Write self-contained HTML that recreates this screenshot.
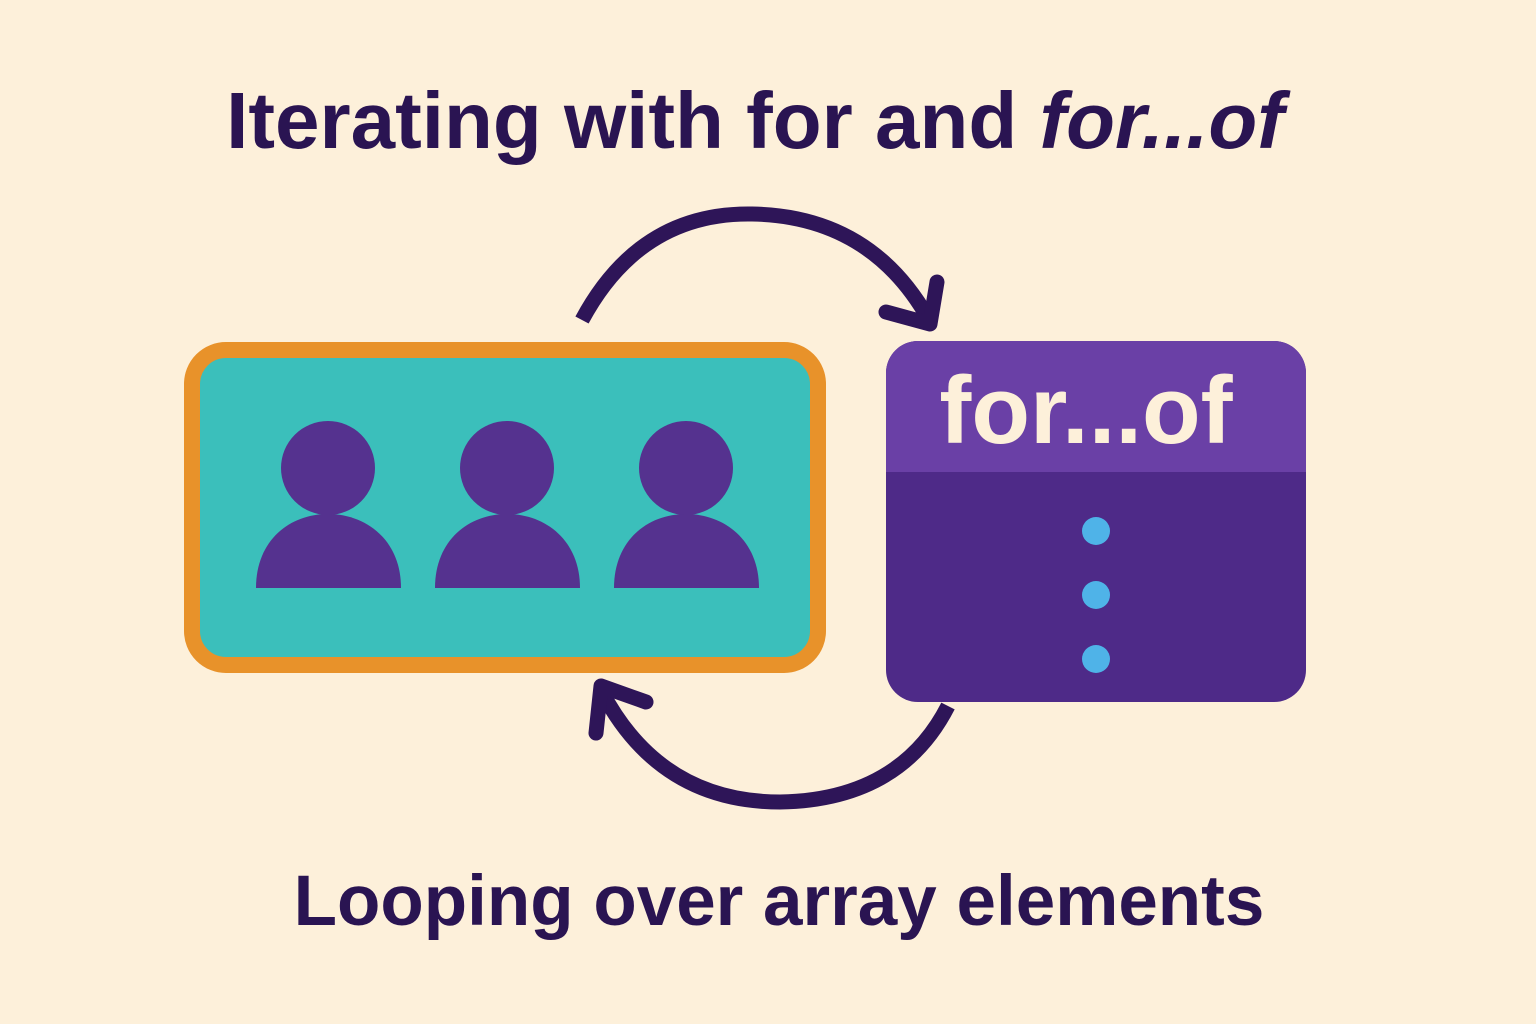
<!DOCTYPE html>
<html><head><meta charset="utf-8"><style>
html,body{margin:0;padding:0;width:1536px;height:1024px;overflow:hidden;background:#fdf0da;}
svg{display:block}
</style></head><body>
<svg width="1536" height="1024" viewBox="0 0 1536 1024" xmlns="http://www.w3.org/2000/svg">
<rect width="1536" height="1024" fill="#fdf0da"/>
<text x="755" y="148" text-anchor="middle" font-family="Liberation Sans, sans-serif" font-weight="bold" font-size="80" fill="#2a1452">Iterating with for and <tspan font-style="italic">for...of</tspan></text>
<text x="779" y="925" text-anchor="middle" font-family="Liberation Sans, sans-serif" font-weight="bold" font-size="71" fill="#2a1452">Looping over array elements</text>
<rect x="192" y="350" width="626" height="315" rx="34" fill="#3bbfbb" stroke="#e8922a" stroke-width="16"/>
<g fill="#55328f">
<circle cx="328" cy="468" r="47"/>
<path d="M256,588 C256,540 290,514 328,514 C366,514 401,540 401,588 Z"/>
<circle cx="507" cy="468" r="47"/>
<path d="M435,588 C435,540 469,514 507,514 C545,514 580,540 580,588 Z"/>
<circle cx="686" cy="468" r="47"/>
<path d="M614,588 C614,540 648,514 686,514 C724,514 759,540 759,588 Z"/>
</g>
<rect x="886" y="341" width="420" height="361" rx="32" fill="#4e2a88"/>
<path d="M918,341 H1274 A32,32 0 0 1 1306,373 V472 H886 V373 A32,32 0 0 1 918,341 Z" fill="#6a40a6"/>
<text x="1086" y="443" text-anchor="middle" font-family="Liberation Sans, sans-serif" font-weight="bold" font-size="96" fill="#fdf0da">for...of</text>
<g fill="#4fb3e8"><circle cx="1096" cy="531" r="14"/><circle cx="1096" cy="595" r="14"/><circle cx="1096" cy="659" r="14"/></g>
<g fill="none" stroke="#2e1558" stroke-width="15" stroke-linecap="round" stroke-linejoin="round">
<path d="M582,320 Q640,212 752,214 Q870,216 928,318" stroke-linecap="butt"/>
<path d="M886,312 L930,324 L937,282"/>
<path d="M948,706 Q900,800 780,802 Q660,802 602,692" stroke-linecap="butt"/>
<path d="M596,733 L601,686 L646,702"/>
</g>
</svg>
</body></html>
